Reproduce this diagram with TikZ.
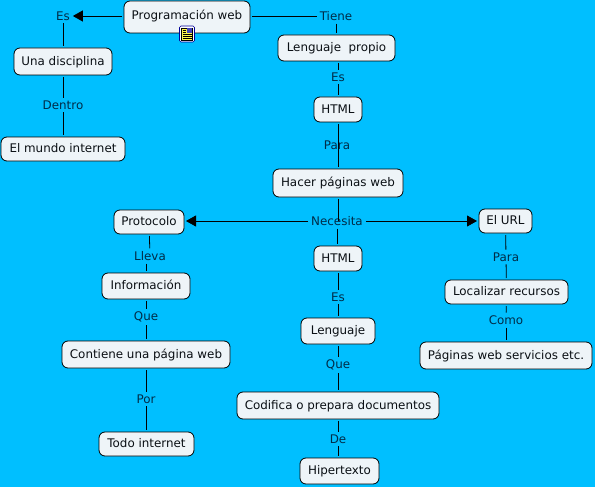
\documentclass[tikz,border=0pt]{standalone}
\usepackage{fontspec}
\setmainfont{DejaVu Sans}
\usetikzlibrary{arrows.meta}
\definecolor{bgc}{RGB}{0,191,255}
\definecolor{boxc}{RGB}{238,244,248}
\definecolor{labc}{RGB}{0,44,72}
\definecolor{txtc}{RGB}{10,15,20}
\tikzset{
 x=1pt,y=-1pt,
 concept/.style={draw=black,fill=boxc,rounded corners=6pt,line width=0.8pt,inner sep=0pt,text=txtc,font=\fontsize{11.9}{13}\selectfont,outer sep=2pt,text height=9.4pt,text depth=2pt},
 rel/.style={text=labc,inner sep=1.5pt,font=\fontsize{11.9}{13}\selectfont,outer sep=1.5pt},
 link/.style={line width=0.8pt,draw=black},
 tip/.style={link,-{Triangle[length=10pt,width=11pt]}}
}
\newcommand{\cpt}[6]{\node[concept,minimum width=#3,minimum height=#4] (#1) at (#5,#6) {#2};}
\begin{document}
\begin{tikzpicture}
\fill[bgc] (0,0) rectangle (595,487);
\useasboundingbox (0,0) rectangle (595,487);
\cpt{prog}{\raisebox{1.2pt}{Programación web}}{126pt}{32pt}{187}{17}
\cpt{disc}{Una disciplina}{98pt}{27pt}{63}{61.5}
\cpt{mundo}{El mundo internet}{124pt}{24pt}{63}{149}
\cpt{lang}{Lenguaje\ \ propio}{117pt}{26pt}{336.5}{48}
\cpt{htmla}{HTML}{48pt}{25pt}{338}{109.5}
\cpt{hacer}{Hacer páginas web}{130pt}{28pt}{338}{183}
\cpt{proto}{Protocolo}{70pt}{24pt}{149}{222}
\cpt{url}{El URL}{53pt}{24pt}{505.5}{221}
\cpt{htmlb}{HTML}{48pt}{25pt}{338}{258.5}
\cpt{info}{Información}{88pt}{26pt}{146}{286}
\cpt{local}{Localizar recursos}{123pt}{24pt}{506.5}{292}
\cpt{lengu}{Lenguaje}{74pt}{26pt}{338}{331}
\cpt{pags}{Páginas web servicios etc.}{172pt}{27pt}{506}{355.5}
\cpt{cont}{Contiene una página web}{168pt}{27pt}{146}{354.5}
\cpt{codi}{Codifica o prepara documentos}{202pt}{27pt}{338}{405.5}
\cpt{todo}{Todo internet}{95pt}{24pt}{146.5}{444}
\cpt{hiper}{Hipertexto}{79pt}{26pt}{339.5}{471}
\node[rel] (es) at (63,16) {Es};
\node[rel] (tiene) at (336,16) {Tiene};
\node[rel] (esb) at (338,77) {Es};
\node[rel] (para) at (337,145) {Para};
\node[rel] (nec) at (337,221) {Necesita};
\node[rel] (dentro) at (63,105) {Dentro};
\node[rel] (lleva) at (150,256) {Lleva};
\node[rel] (parab) at (506,257) {Para};
\node[rel] (que) at (146,317) {Que};
\node[rel] (esc) at (338,297) {Es};
\node[rel] (como) at (506,320) {Como};
\node[rel] (queb) at (338,365) {Que};
\node[rel] (por) at (146,399) {Por};
\node[rel] (de) at (338,439) {De};
\draw[tip] (prog.west |- es) -- (es.east);
\draw[link] (es) -- (es |- disc.north);
\draw[link] (disc) -- (dentro);
\draw[link] (dentro) -- (mundo);
\draw[link] (prog.east |- tiene) -- (tiene.west);
\draw[link] (tiene) -- (tiene |- lang.north);
\draw[link] (esb |- lang.south) -- (esb);
\draw[link] (esb) -- (htmla);
\draw[link] (htmla) -- (para -| htmla);
\draw[link] (para -| hacer) -- (hacer);
\draw[link] (hacer) -- (nec -| hacer);
\draw[tip] (nec.west) -- (proto.east |- nec);
\draw[tip] (nec.east) -- (url.west |- nec);
\draw[link] (nec) -- (nec |- htmlb.north);
\draw[link] (htmlb) -- (esc);
\draw[link] (esc) -- (lengu);
\draw[link] (lengu) -- (queb);
\draw[link] (queb) -- (codi);
\draw[link] (codi) -- (de);
\draw[link] (de) -- (de |- hiper.north);
\draw[link] (proto) -- (lleva);
\draw[link] (lleva.south -| info) -- (info);
\draw[link] (info) -- (que);
\draw[link] (que) -- (cont);
\draw[link] (cont) -- (por);
\draw[link] (por) -- (por |- todo.north);
\draw[link] (url) -- (parab);
\draw[link] (parab) -- (local);
\draw[link] (local) -- (como);
\draw[link] (como) -- (pags);
% resource icon
\filldraw[draw=blue!60!black,fill=white,rounded corners=1.5pt,line width=0.6pt] (179.5,26) rectangle (194.5,42);
\filldraw[draw=black,fill=yellow!70!white,line width=0.5pt] (181.5,28) rectangle (192.5,40.5);
\fill[blue!45!gray] (187,28.5) rectangle (192,33);
\foreach \yy/\xe in {30/186,32/186,34/191.5,36/191.5,38.5/191.5}
  \draw[line width=0.7pt] (182.5,\yy) -- (\xe,\yy);
\end{tikzpicture}
\end{document}
